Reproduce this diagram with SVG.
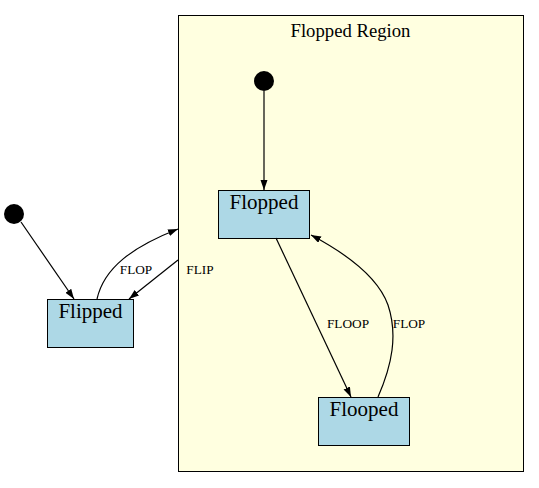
<svg xmlns="http://www.w3.org/2000/svg" width="539" height="488" viewBox="0 0 539 488">
<style>
.node{fill:#add8e6;stroke:#000;stroke-width:1}
.lbl{font-family:"Liberation Serif","Times New Roman",serif;font-size:21px;text-anchor:middle;fill:#000}
.elbl{font-family:"Liberation Serif","Times New Roman",serif;font-size:13.3px;text-anchor:middle;fill:#000}
.edge{fill:none;stroke:#000;stroke-width:1.2;marker-end:url(#ah)}
.init{fill:#000}
</style>
<defs>
<marker id="ah" markerUnits="userSpaceOnUse" markerWidth="11" markerHeight="8" refX="10" refY="3.5" orient="auto">
<polygon points="0,0 10,3.5 0,7" fill="#000"/>
</marker>
</defs>
<rect width="539" height="488" fill="#fff"/>
<g id="cluster">
<rect x="178.5" y="15.5" width="345" height="456" fill="#ffffe0" stroke="#000"/>
<text x="350.5" y="37" font-family="'Liberation Serif','Times New Roman',serif" font-size="18.7" text-anchor="middle">Flopped Region</text>
</g>
<g id="init1"><circle class="init" cx="14" cy="214" r="10"/></g>
<g id="init2"><circle class="init" cx="264" cy="81" r="10"/></g>
<g id="flipped"><rect class="node" x="47.5" y="299.5" width="86" height="48"/><text class="lbl" x="90.5" y="318">Flipped</text></g>
<g id="flopped"><rect class="node" x="218.5" y="190.5" width="91" height="48"/><text class="lbl" x="264" y="209">Flopped</text></g>
<g id="flooped"><rect class="node" x="318.5" y="397.5" width="91" height="48"/><text class="lbl" x="364" y="416">Flooped</text></g>
<g id="connectors">
<path class="edge" d="M21,222 L74,299"/>
<path class="edge" d="M264,91 L264,190"/>
<path class="edge" d="M97,299 C104,268 132,247 178,229"/>
<path class="edge" d="M178,260 L129,299"/>
<path class="edge" d="M276,238 L351,397"/>
<path class="edge" d="M378,397 C392,365 398,335 388,305 C378,277 345,253 311,235"/>
<text class="elbl" x="136" y="274">FLOP</text>
<text class="elbl" x="200" y="274">FLIP</text>
<text class="elbl" x="348" y="328">FLOOP</text>
<text class="elbl" x="409" y="328">FLOP</text>
</g>
</svg>
